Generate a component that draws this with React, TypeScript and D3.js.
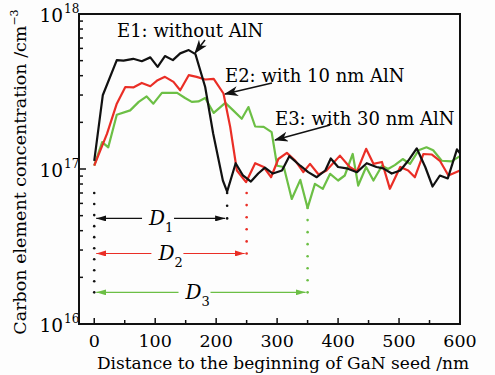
import React, { useEffect, useRef } from "react";
import * as d3 from "d3";

// carbon concentration profiles (distance nm, concentration cm^-3)
const e1X = [0, 14, 37, 48, 64, 78, 92, 104, 116, 129, 141, 155, 166, 182, 195, 211, 218, 232, 244, 257, 269, 280, 293, 308, 320, 338, 351, 365, 379, 388, 400, 414, 431, 447, 463, 474, 488, 502, 515, 529, 543, 555, 567, 580, 595, 600];
const e1Y = [1.13e17, 2.99e17, 5.04e17, 5.0e17, 5.14e17, 4.96e17, 5.25e17, 4.56e17, 5.35e17, 5.04e17, 5.57e17, 5.85e17, 5.51e17, 3.38e17, 1.7e17, 8.43e16, 7.15e16, 1.09e17, 9.08e16, 8.3e16, 9.35e16, 1.02e17, 9.35e16, 9.78e16, 1.21e17, 1.05e17, 9.54e16, 8.85e16, 9.78e16, 1.17e17, 1.03e17, 1.01e17, 9.54e16, 1.09e17, 1.03e17, 1.01e17, 9.35e16, 9.78e16, 1.13e17, 1.36e17, 1.03e17, 7.71e16, 9.08e16, 8.69e16, 1.34e17, 1.26e17];

const e2X = [0, 21, 37, 51, 64, 78, 92, 104, 116, 130, 141, 155, 168, 182, 196, 212, 223, 234, 249, 264, 278, 290, 302, 316, 330, 343, 354, 368, 381, 403, 419, 431, 446, 458, 472, 485, 502, 515, 526, 540, 554, 567, 581, 600];
const e2Y = [1.05e17, 1.69e17, 2.64e17, 3.38e17, 3.36e17, 3.59e17, 3.42e17, 3.74e17, 3.93e17, 3.65e17, 3.22e17, 4.03e17, 3.93e17, 3.78e17, 3.81e17, 3.07e17, 1.87e17, 9.78e16, 8.22e16, 1.09e17, 1.03e17, 8.85e16, 1.16e17, 1.27e17, 1.13e17, 9.54e16, 1.08e17, 9.21e16, 9.78e16, 1.22e17, 1.03e17, 9.64e16, 1.35e17, 1.08e17, 1.11e17, 7.45e16, 1.03e17, 9.78e16, 8.85e16, 1.25e17, 1.24e17, 1.13e17, 9.08e16, 9.78e16];

const e3X = [0, 13, 23, 37, 59, 73, 86, 97, 111, 125, 136, 149, 160, 171, 182, 196, 215, 228, 242, 253, 264, 278, 291, 300, 311, 324, 338, 350, 362, 375, 387, 400, 411, 424, 433, 446, 458, 472, 482, 493, 506, 518, 532, 545, 556, 570, 586, 600];
const e3Y = [1.05e17, 1.49e17, 1.38e17, 2.24e17, 2.39e17, 2.71e17, 2.94e17, 2.64e17, 3.1e17, 3.1e17, 3.1e17, 2.87e17, 2.71e17, 2.73e17, 2.87e17, 2.3e17, 2.67e17, 2.39e17, 2.11e17, 2.51e17, 1.88e17, 1.87e17, 1.73e17, 1.05e17, 1.03e17, 6.41e16, 8.51e16, 5.61e16, 8.02e16, 7.45e16, 9.31e16, 8.43e16, 9.08e16, 1.25e17, 7.82e16, 1.03e17, 8.43e16, 1.05e17, 1.0e17, 1.06e17, 1.16e17, 1.08e17, 1.32e17, 1.38e17, 1.32e17, 1.13e17, 1.12e17, 1.21e17];

const xTicks = [0, 100, 200, 300, 400, 500, 600];
const yTickExp = [16, 17, 18];

// D1..D3 widths (nm) and where the dotted guides start (cm^-3)
const dNames = ["1", "2", "3"];
const dEnds = [218, 250, 350];
const dLevels = [4.8e16, 2.85e16, 1.6e16];
const dTops = [7.0e16, 7.0e16, 5.6e16];

const BLACK = "#111";
const RED = "#ea2e26";
const GREEN = "#6cbf45";
const colors = [BLACK, RED, GREEN];
const FONT = "'DejaVu Serif', serif";

export default function App() {
  const svgRef = useRef<SVGSVGElement>(null);

  useEffect(() => {
    const svg = d3.select(svgRef.current);
    svg.selectAll("*").remove();
    const width = 495;
    const height = 375;
    const margin = { top: 14, right: 35, bottom: 51, left: 79 };

    const x = d3.scaleLinear().domain([-25, 600]).range([margin.left, width - margin.right]);
    const y = d3.scaleLog().domain([1e16, 1e18]).range([height - margin.bottom, margin.top]);
    const y0 = height - margin.bottom;

    svg.append("rect").attr("width", width).attr("height", height).attr("fill", "#fdfdfd");

    const defs = svg.append("defs");
    colors.forEach((c, i) => {
      defs.append("marker")
        .attr("id", `tri${i}`)
        .attr("viewBox", "0 0 10 6")
        .attr("refX", 10).attr("refY", 3)
        .attr("markerWidth", 10).attr("markerHeight", 6)
        .attr("markerUnits", "userSpaceOnUse")
        .attr("orient", "auto-start-reverse")
        .append("path").attr("d", "M0,0L10,3L0,6Z").attr("fill", c);
    });
    defs.append("marker")
      .attr("id", "barb")
      .attr("viewBox", "0 0 14 10")
      .attr("refX", 13).attr("refY", 5)
      .attr("markerWidth", 14).attr("markerHeight", 10)
      .attr("markerUnits", "userSpaceOnUse")
      .attr("orient", "auto")
      .append("path").attr("d", "M0,0L14,5L0,10L4,5Z").attr("fill", BLACK);

    // ticks (inside)
    const xMinor = d3.range(0, 601, 50);
    svg.append("g").selectAll("line").data(xMinor).enter().append("line")
      .attr("x1", (d) => x(d)).attr("x2", (d) => x(d))
      .attr("y1", y0).attr("y2", (d) => y0 - (d % 100 === 0 ? 6 : 4))
      .attr("stroke", BLACK).attr("stroke-width", 1.5);

    const yMinor: number[] = [];
    [1e16, 1e17].forEach((b) => d3.range(1, 10).forEach((k) => yMinor.push(b * k)));
    yMinor.push(1e18);
    svg.append("g").selectAll("line").data(yMinor).enter().append("line")
      .attr("x1", margin.left).attr("x2", (d) => margin.left + ([1e16, 1e17, 1e18].includes(d) ? 7 : 4))
      .attr("y1", (d) => y(d)).attr("y2", (d) => y(d))
      .attr("stroke", BLACK).attr("stroke-width", 1.5);

    // tick labels
    svg.append("g").selectAll("text").data(xTicks).enter().append("text")
      .attr("x", (d) => x(d)).attr("y", 347)
      .attr("text-anchor", "middle")
      .attr("font-family", FONT).attr("font-size", 17.5)
      .text((d) => d);

    svg.append("g").selectAll("text").data(yTickExp).enter().append("text")
      .attr("x", margin.left - 16).attr("y", (d) => y(Math.pow(10, d)) + 8)
      .attr("text-anchor", "end")
      .attr("font-family", FONT).attr("font-size", 18.5)
      .text("10");
    svg.append("g").selectAll("text").data(yTickExp).enter().append("text")
      .attr("x", margin.left - 15).attr("y", (d) => y(Math.pow(10, d)) - 1)
      .attr("font-family", FONT).attr("font-size", 12)
      .text((d) => d);

    // axis titles
    svg.append("text")
      .attr("x", 283).attr("y", 369)
      .attr("text-anchor", "middle")
      .attr("font-family", FONT).attr("font-size", 17)
      .text("Distance to the beginning of GaN seed /nm");
    const yt = svg.append("text")
      .attr("transform", `translate(26,${(margin.top + y0) / 2 + 3}) rotate(-90)`)
      .attr("text-anchor", "middle")
      .attr("font-family", FONT).attr("font-size", 17.5);
    yt.append("tspan").text("Carbon element concentration /cm");
    yt.append("tspan").attr("font-size", 11).attr("dy", -8).text("−3");

    // series
    const line = d3.line<[number, number]>().x((d) => x(d[0])).y((d) => y(d[1]));
    const series: [number[], number[], string][] = [
      [e3X, e3Y, GREEN],
      [e2X, e2Y, RED],
      [e1X, e1Y, BLACK],
    ];
    series.forEach(([xs, ys, c]) => {
      svg.append("path")
        .datum(xs.map((v, i) => [v, ys[i]] as [number, number]))
        .attr("d", line)
        .attr("fill", "none")
        .attr("stroke", c).attr("stroke-width", 2.2)
        .attr("stroke-linejoin", "round");
    });

    // dotted guides
    const dotCol = (x0: number, top: number, bottom: number, c: string) => {
      const n = Math.floor((bottom - top) / 11);
      svg.append("g").selectAll("circle").data(d3.range(n + 1)).enter().append("circle")
        .attr("cx", x0).attr("cy", (k) => bottom - k * ((bottom - top) / n))
        .attr("r", 1.3).attr("fill", c);
    };
    dotCol(x(0), y(7.0e16), y(dLevels[2]), BLACK);
    dEnds.forEach((e, i) => dotCol(x(e), y(dTops[i]), y(dLevels[i]), colors[i]));

    // D arrows with labels
    dEnds.forEach((e, i) => {
      const yy = y(dLevels[i]);
      const cx = x(0) + (x(e) - x(0)) * (i === 2 ? 0.47 : 0.48);
      const gap = 16;
      svg.append("line")
        .attr("x1", x(0) + 2).attr("x2", cx - gap)
        .attr("y1", yy).attr("y2", yy)
        .attr("stroke", colors[i]).attr("stroke-width", 1.2)
        .attr("marker-start", `url(#tri${i})`);
      svg.append("line")
        .attr("x1", cx + gap).attr("x2", x(e) - 2)
        .attr("y1", yy).attr("y2", yy)
        .attr("stroke", colors[i]).attr("stroke-width", 1.2)
        .attr("marker-end", `url(#tri${i})`);
      const t = svg.append("text")
        .attr("x", cx - 9).attr("y", yy + 7)
        .attr("font-family", FONT).attr("font-size", 20).attr("font-style", "italic");
      t.append("tspan").text("D");
      t.append("tspan").attr("font-size", 13).attr("font-style", "normal").attr("dy", 7).text(dNames[i]);
    });

    // series annotations
    const notes = [
      { text: "E1: without AlN", tx: 117, ty: 37, a: [205, 40], b: [195, 53] },
      { text: "E2: with 10 nm AlN", tx: 225, ty: 82, a: [272, 83], b: [225, 94] },
      { text: "E3: with 30 nm AlN", tx: 275, ty: 125, a: [330, 125], b: [275, 140] },
    ];
    notes.forEach((n) => {
      svg.append("text")
        .attr("x", n.tx).attr("y", n.ty)
        .attr("font-family", FONT).attr("font-size", 18)
        .text(n.text);
      svg.append("line")
        .attr("x1", n.a[0]).attr("y1", n.a[1]).attr("x2", n.b[0]).attr("y2", n.b[1])
        .attr("stroke", BLACK).attr("stroke-width", 1.5)
        .attr("marker-end", "url(#barb)");
    });

    // frame
    svg.append("rect")
      .attr("x", margin.left).attr("y", margin.top)
      .attr("width", width - margin.right - margin.left)
      .attr("height", y0 - margin.top)
      .attr("fill", "none").attr("stroke", BLACK).attr("stroke-width", 2);
  }, []);

  return (
    <div style={{ position: "absolute", left: 0, top: 0 }}>
      <svg ref={svgRef} width={495} height={375} style={{ display: "block" }} />
    </div>
  );
}
